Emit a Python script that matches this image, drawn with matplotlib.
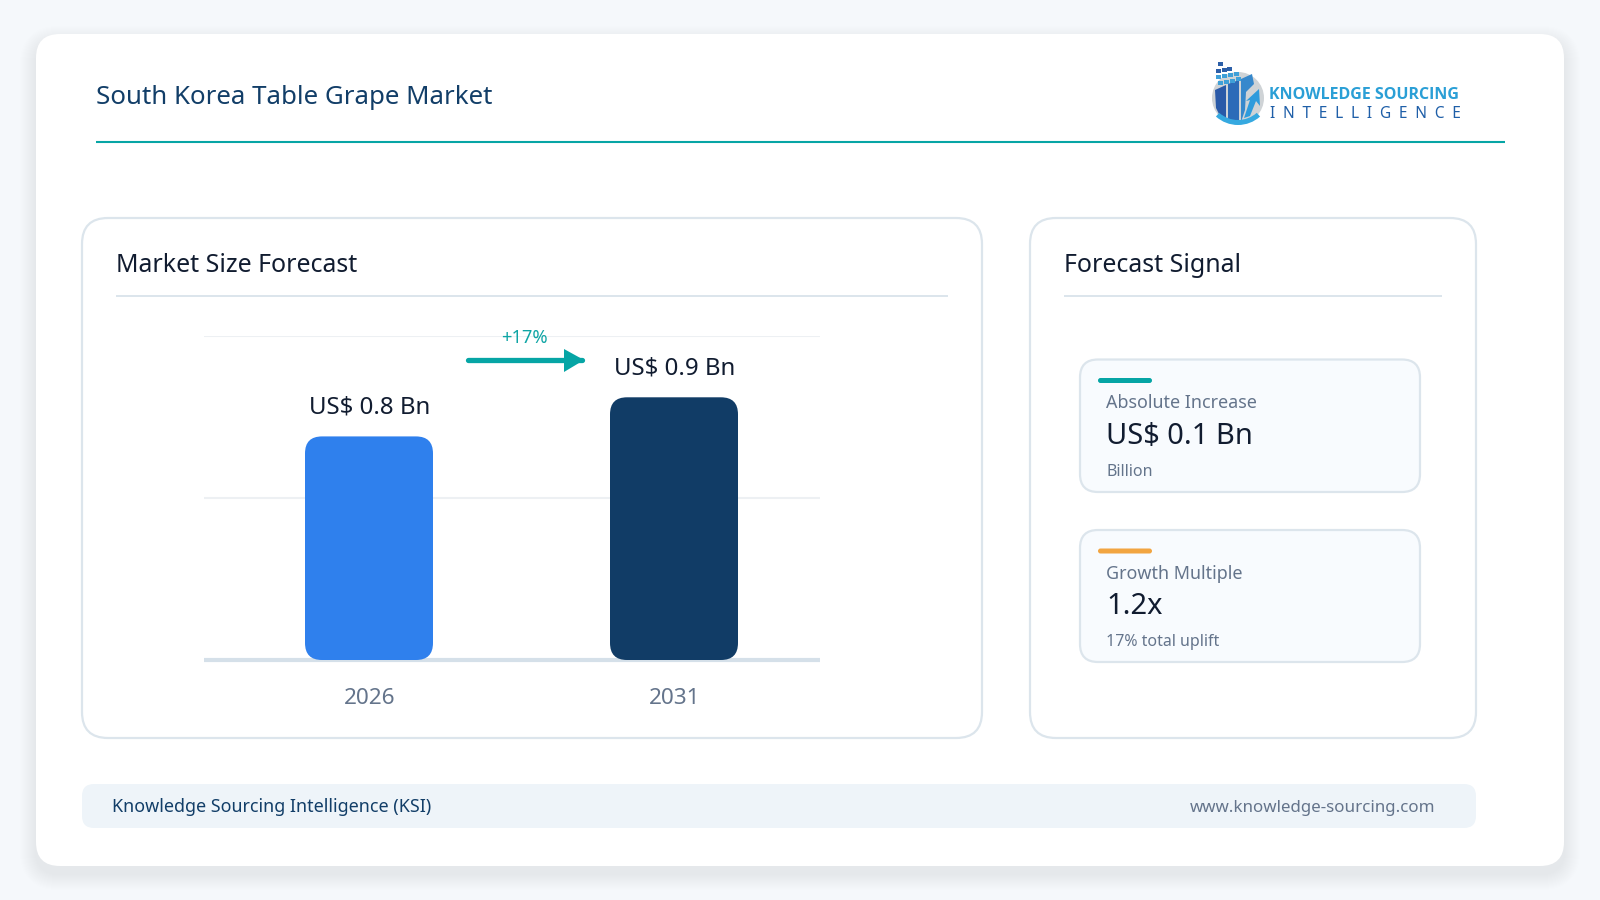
import matplotlib
matplotlib.use("Agg")
import matplotlib.pyplot as plt
from matplotlib.patches import FancyBboxPatch, Circle, Polygon, Wedge, Rectangle
from matplotlib.transforms import ScaledTranslation

plt.rcParams['font.family'] = ['Noto Sans', 'DejaVu Sans']

title = "South Korea Table Grape Market"
years = ["2026", "2031"]
market_size = [0.766, 0.90]
value_labels = ["US$ 0.8 Bn", "US$ 0.9 Bn"]
bar_colors = ["#2F80ED", "#113C66"]
y_ticks = [0, 0.555, 1.11]
growth_label = "+17%"
signal_cards = [
    ("Absolute Increase", "US$ 0.1 Bn", "Billion", "#06A5A5"),
    ("Growth Multiple", "1.2x", "17% total uplift", "#F2A541"),
]

W, H = 1600, 900
fig = plt.figure(figsize=(16, 9), dpi=100, facecolor="#F5F8FB")
bg = fig.add_axes([0, 0, 1, 1], zorder=0)
bg.set_xlim(0, W); bg.set_ylim(H, 0); bg.axis("off")


def rbox(ax, x0, y0, x1, y1, r, fc, ec="none", lw=0, z=1, alpha=None):
    p = FancyBboxPatch((x0, y0), x1 - x0, y1 - y0, boxstyle=f"round,pad=0,rounding_size={r}",
                       fc=fc, ec=ec, lw=lw, zorder=z, alpha=alpha)
    ax.add_patch(p)
    return p


# card with soft shadow
for i in range(16, 0, -1):
    rbox(bg, 36 - i, 34 - i + 8, 1564 + i, 866 + i + 8, 24 + i, "#8CA3B8", alpha=0.008, z=1)
rbox(bg, 36, 34, 1564, 866, 24, "white", z=2)

bg.text(96, 97.5, title, fontsize=18.6, color="#123E68", va="center", ha="left", zorder=5)
bg.plot([96, 1505], [142, 142], color="#06A5A5", lw=1.5, zorder=5, solid_capstyle="butt")

# panels
for x0, x1, name, dx1 in [(82, 982, "Market Size Forecast", 948), (1030, 1476, "Forecast Signal", 1442)]:
    rbox(bg, x0, 218, x1, 738, 26, "white", ec="#DCE5EC", lw=1.6, z=3)
    bg.text(x0 + 34, 266, name, fontsize=17.95, color="#111C30", va="center", ha="left", zorder=5)
    bg.plot([x0 + 34, dx1], [296, 296], color="#DCE5EC", lw=1.4, zorder=5, solid_capstyle="butt")

# signal cards
for (label, value, sub, col), y0, h in zip(signal_cards, [359.5, 530], [132.5, 132]):
    rbox(bg, 1080, y0, 1420, y0 + h, 18, "#F8FBFE", ec="#DCE5EC", lw=1.6, z=4)
    rbox(bg, 1098, y0 + 18.5, 1152, y0 + 23.5, 2.5, col, z=5)
    bg.text(1106, y0 + 43.7, label, fontsize=12.9, color="#64748B", va="center", ha="left", zorder=5)
    bg.text(1106, y0 + 77, value, fontsize=20.9, color="#111C30", va="center", ha="left", zorder=5)
    bg.text(1106, y0 + 112.5, sub, fontsize=11.5, color="#64748B", va="center", ha="left", zorder=5)

# footer
rbox(bg, 82, 784, 1476, 828, 12, "#EEF4F9", z=3)
bg.text(112, 807, "Knowledge Sourcing Intelligence (KSI)", fontsize=12.9, color="#123E68", va="center", ha="left", zorder=5)
bg.text(1435, 807.5, "www.knowledge-sourcing.com", fontsize=12.2, color="#64748B", va="center", ha="right", zorder=5)

# logo
bg.add_patch(Circle((1238, 98), 26, fc="#CFD3D6", ec="none", zorder=5))
bg.add_patch(Polygon([(1215, 90), (1226, 85), (1226, 120), (1220, 116), (1216, 108)], fc="#2A5AA8", zorder=6))
bg.add_patch(Polygon([(1228, 84), (1239, 80), (1239, 122), (1228, 121)], fc="#2C6BB8", zorder=6))
bg.add_patch(Polygon([(1241, 79), (1252, 74), (1254, 84), (1246, 92), (1245, 110), (1241, 122)], fc="#3688CC", zorder=6))
for bx, by in [(1218, 62), (1216, 69), (1222, 68), (1227, 67), (1216, 75), (1222, 74), (1228, 73), (1234, 72),
               (1218, 81), (1224, 80), (1230, 79), (1236, 77)]:
    bg.add_patch(Rectangle((bx, by), 4.5, 4, fc="#2C5FA8" if by < 72 else "#3FA0D8", zorder=6))
bg.add_patch(Wedge((1238, 92), 33, 48, 132, width=5, fc="#36A9E0", zorder=7))
bg.add_patch(Polygon([(1259, 89), (1260, 106), (1256, 101), (1250, 116), (1244, 118), (1250, 100), (1246, 101)],
                     fc="#2E9BDC", zorder=8))
bg.text(1269, 95, "KNOWLEDGE SOURCING", fontsize=11.55, fontweight="bold", family="Open Sans", color="#2A9FD6",
        va="center", ha="left", zorder=6)
bg.text(1270, 114, "\u2002".join("INTELLIGENCE"), fontsize=11.1, color="#1F5FA8", va="center", ha="left",
        family=["Noto Sans", "DejaVu Sans"], zorder=6)

# chart
AX_L, AX_R, AX_T, AX_B = 204, 820, 336, 660
ax = fig.add_axes([AX_L / W, 1 - AX_B / H, (AX_R - AX_L) / W, (AX_B - AX_T) / H], zorder=2)
ax.patch.set_alpha(0)
xs = list(range(len(years)))
bar_w = 128 / 305
ax.set_xlim(-165 / 305, 451 / 305)
ax.set_ylim(0, y_ticks[-1])
for s in ["top", "right", "left"]:
    ax.spines[s].set_visible(False)
ax.spines["bottom"].set_color("#D5E0E9")
ax.spines["bottom"].set_linewidth(3)
ax.spines["bottom"].set_capstyle("butt")
ax.set_yticks(y_ticks[1:])
ax.tick_params(axis="y", length=0, labelleft=False)
ax.tick_params(axis="x", length=0, pad=20.5)
ax.grid(axis="y", color="#EDF0F3", lw=1.5, zorder=0)
ax.set_axisbelow(True)
ax.set_xticks(xs, years, fontsize=16.2, color="#64748B")
for lbl in ax.get_xticklabels():
    lbl.set_transform(lbl.get_transform() + ScaledTranslation(1 / 100, 0, fig.dpi_scale_trans))

px_per_x = 305
px_per_y = (AX_B - AX_T) / y_ticks[-1]
aspect = px_per_x / px_per_y
for x, v, c, lab in zip(xs, market_size, bar_colors, value_labels):
    ax.add_patch(FancyBboxPatch((x - bar_w / 2, 0), bar_w, v,
                                boxstyle=f"round,pad=0,rounding_size={17 / px_per_x}",
                                mutation_aspect=aspect, fc=c, ec="none", zorder=3))
    ax.annotate(lab, (x, v), xytext=(0.3, 12), textcoords="offset points", ha="center", va="bottom",
                fontsize=17.3, color="#111C30", zorder=5)

# growth arrow
bg2 = fig.add_axes([0, 0, 1, 1], zorder=3)
bg2.set_xlim(0, W); bg2.set_ylim(H, 0); bg2.axis("off")
bg2.plot([467.5, 582], [360, 360], color="#06A5A5", lw=3.8, solid_capstyle="round")
bg2.add_patch(Polygon([(564, 349), (564, 372), (584, 360)], fc="#06A5A5", ec="none"))
bg2.text(524.5, 338, growth_label, fontsize=13.2, color="#0FA5A5", ha="center", va="center")

fig.savefig("out.png", dpi=100, facecolor=fig.get_facecolor())
